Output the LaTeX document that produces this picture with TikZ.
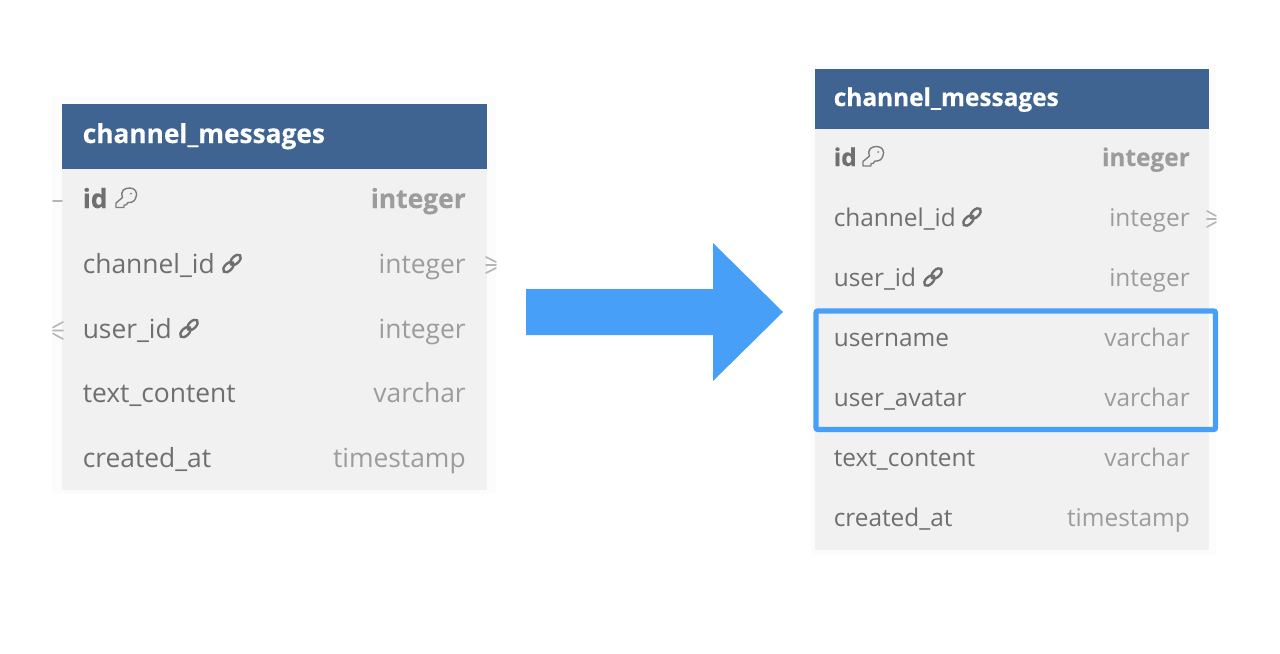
\documentclass[tikz,border=0pt]{standalone}
\usepackage{fontspec}
\setmainfont{Open Sans}[BoldFeatures={FakeBold=0.35}]
\definecolor{hdr}{HTML}{3F6491}
\definecolor{rowbg}{HTML}{F1F1F1}
\definecolor{shadowbg}{HTML}{FCFCFC}
\definecolor{txtname}{HTML}{6F6F6F}
\definecolor{txttype}{HTML}{9C9C9C}
\definecolor{blue}{HTML}{489FF8}
\tikzset{
  hdrbox/.style={fill=hdr,draw=none},
  rowbox/.style={fill=rowbg,draw=none},
  halo/.style={fill=shadowbg,draw=none},
  lname/.style={anchor=base west,inner sep=0pt,text=txtname,font=\fontsize{19.8pt}{22pt}\selectfont},
  ltype/.style={anchor=base east,inner sep=0pt,text=txttype,font=\fontsize{19.8pt}{22pt}\selectfont},
  lhead/.style={anchor=base west,inner sep=0pt,text=white,font=\fontsize{19.7pt}{22pt}\selectfont\bfseries},
  rname/.style={anchor=base west,inner sep=0pt,text=txtname,font=\fontsize{18.3pt}{22pt}\selectfont},
  rtype/.style={anchor=base east,inner sep=0pt,text=txttype,font=\fontsize{18.3pt}{22pt}\selectfont},
  rhead/.style={anchor=base west,inner sep=0pt,text=white,font=\fontsize{18.3pt}{22pt}\selectfont\bfseries},
  crow/.style={draw=txttype!75,line width=1.2pt,line cap=round},
  keyicon/.pic={
    \draw[txtname!90,line width=1.05pt,line join=round]
      (-3.5,-0.5) .. controls (-6,-8) and (-1,-10) .. (4,-10)
      .. controls (9,-10) and (12,-5) .. (10,-1)
      .. controls (9,3) and (6,5) .. (2,4.5)
      -- (0,7) -- (-2,7) -- (-2,9.5) -- (-10,9.5) -- (-10,5) -- cycle;
    \fill[txtname!90] (5,-4.5) circle[radius=1];
  },
  linkicon/.pic={
    \draw[txtname,line width=1.8pt]
      (-3.6,3.6) circle[x radius=6.4,y radius=3.6,rotate=45]
      (3.6,-3.6) circle[x radius=6.4,y radius=3.6,rotate=45];
  },
}
\begin{document}
\begin{tikzpicture}[x=0.75pt,y=-0.75pt]
\useasboundingbox (0,0) rectangle (1280,653);
% left table
\fill[halo] (52,96) rectangle (496,494);
\fill[rowbox] (62,169) rectangle (487,490);
\fill[hdrbox] (62,104) rectangle (487,169);
\node[lhead] (lt) at (82.5,143) {channel\_messages};
\node[lname,font=\fontsize{19.8pt}{22pt}\selectfont\bfseries] (l1) at (82.5,208) {id};
\node[ltype,font=\fontsize{19.8pt}{22pt}\selectfont\bfseries] (l1t) at (466,208) {integer};
\node[lname] (l2) at (82.5,273) {channel\_id};
\node[ltype] (l2t) at (466,273) {integer};
\node[lname] (l3) at (82.5,338) {user\_id};
\node[ltype] (l3t) at (466,338) {integer};
\node[lname] (l4) at (82.5,402) {text\_content};
\node[ltype] (l4t) at (466,402) {varchar};
\node[lname] (l5) at (82.5,467) {created\_at};
\node[ltype] (l5t) at (466,467) {timestamp};
\pic at (126,198) {keyicon};
\pic at (232,263.5) {linkicon};
\pic at (189,328.5) {linkicon};
% left crow marks
\draw[crow] (53,201) -- (62,201);
\draw[crow] (496,262) -- (486,257) (496,265) -- (486,265) (496,268) -- (486,273);
\draw[crow] (53,327.5) -- (63,322) (53,330.5) -- (63,330.5) (53,333.5) -- (63,339);
% right table
\fill[halo] (811,65) rectangle (1216,555);
\fill[rowbox] (815,129) rectangle (1209,550);
\fill[hdrbox] (815,69) rectangle (1209,129);
\node[rhead] (rt) at (833.5,106) {channel\_messages};
\node[rname,font=\fontsize{18.3pt}{22pt}\selectfont\bfseries] (r1) at (833.5,166) {id};
\node[rtype,font=\fontsize{18.3pt}{22pt}\selectfont\bfseries] (r1t) at (1190,166) {integer};
\node[rname] (r2) at (833.5,226) {channel\_id};
\node[rtype] (r2t) at (1190,226) {integer};
\node[rname] (r3) at (833.5,286) {user\_id};
\node[rtype] (r3t) at (1190,286) {integer};
\node[rname] (r4) at (833.5,346) {username};
\node[rtype] (r4t) at (1190,346) {varchar};
\node[rname] (r5) at (833.5,406) {user\_avatar};
\node[rtype] (r5t) at (1190,406) {varchar};
\node[rname] (r6) at (833.5,466) {text\_content};
\node[rtype] (r6t) at (1190,466) {varchar};
\node[rname] (r7) at (833.5,526) {created\_at};
\node[rtype] (r7t) at (1190,526) {timestamp};
\begin{scope}[shift={(873,156.5)},scale=0.93]\pic at (0,0) {keyicon};\end{scope}
\begin{scope}[shift={(972,217)},scale=0.93]\pic at (0,0) {linkicon};\end{scope}
\begin{scope}[shift={(933,277)},scale=0.93]\pic at (0,0) {linkicon};\end{scope}
\draw[crow] (1216,216) -- (1207,211) (1216,219) -- (1207,219) (1216,222) -- (1207,227);
% highlight
\draw[blue,line width=4pt,rounded corners=1.5pt] (816,311) rectangle (1215.5,429.5);
% arrow
\fill[blue] (526,289) -- (713,289) -- (713,243) -- (783,312) -- (713,381) -- (713,335) -- (526,335) -- cycle;
\end{tikzpicture}
\end{document}
